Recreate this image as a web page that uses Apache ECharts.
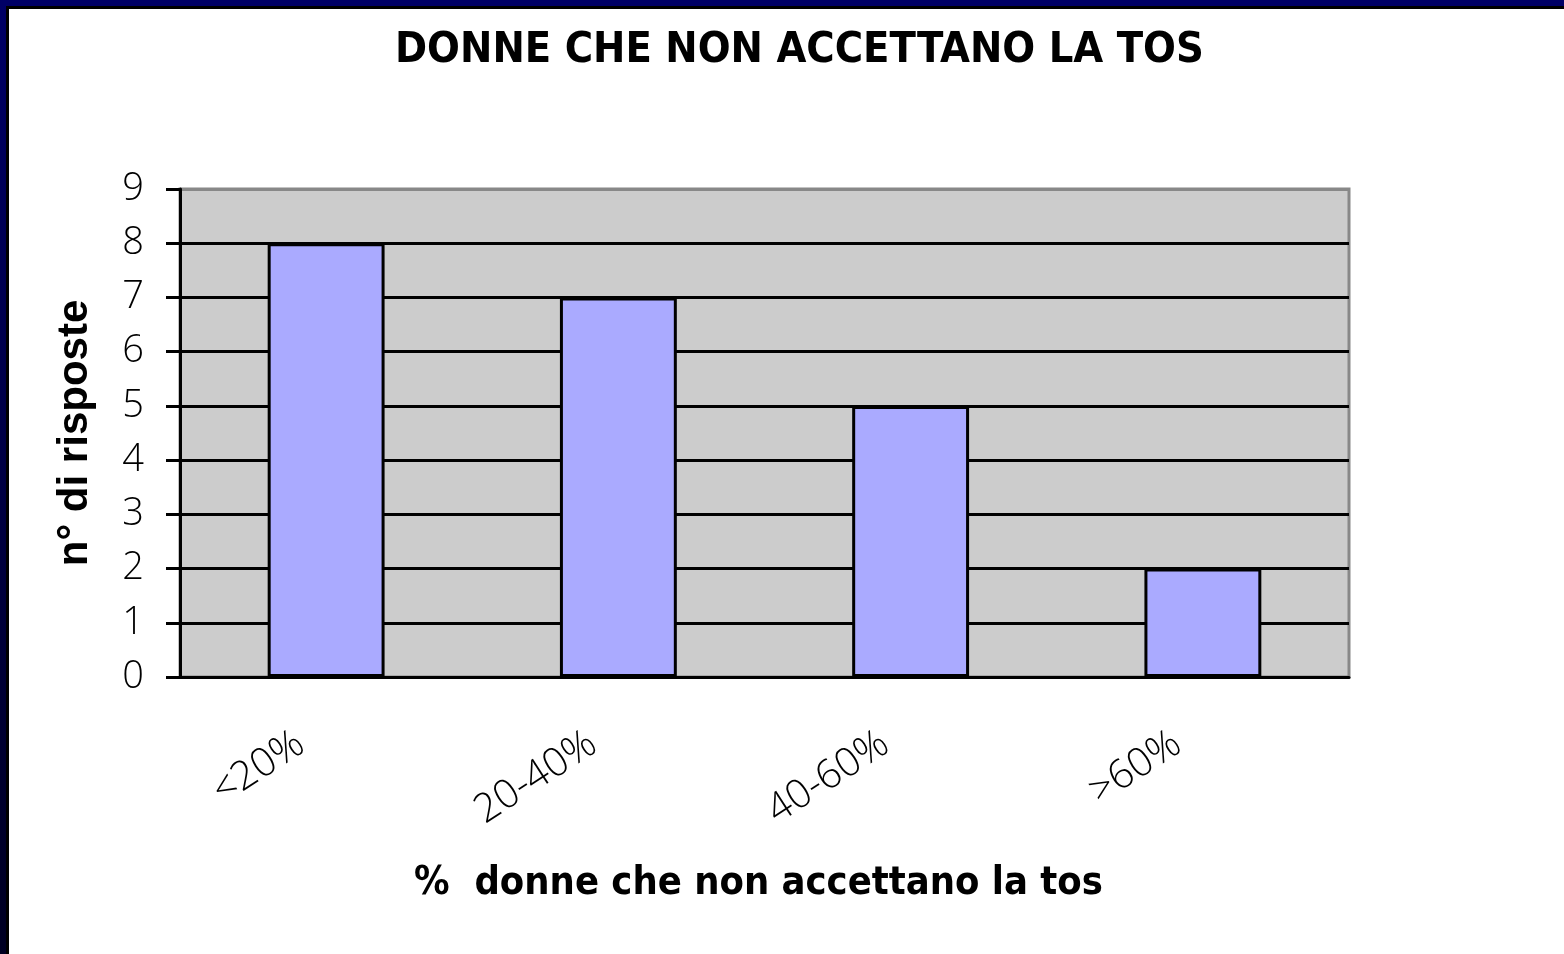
<!DOCTYPE html>
<html>
<head>
<meta charset="utf-8">
<script src="https://cdn.jsdelivr.net/npm/echarts@6/dist/echarts.min.js"></script>
<style>
  html, body { margin: 0; padding: 0; background: #fff; }
  #chart { position: absolute; left: 0; top: 0; width: 1564px; height: 954px; }
  .frame-top { position: absolute; left: 0; top: 0; width: 1564px; height: 6px; background: #000066; }
  .frame-left { position: absolute; left: 0; top: 0; width: 6px; height: 954px; background: linear-gradient(#000066, #000022); }
  .frame-top-in { position: absolute; left: 6px; top: 6px; width: 1558px; height: 3px; background: #000; }
  .frame-left-in { position: absolute; left: 6px; top: 6px; width: 3px; height: 948px; background: #000; }
</style>
</head>
<body>
<div id="chart"></div>
<div class="frame-top"></div>
<div class="frame-left"></div>
<div class="frame-top-in"></div>
<div class="frame-left-in"></div>
<script>
const titleText = 'DONNE CHE NON ACCETTANO LA TOS'
const categories = ['<20%', '20-40%', '40-60%', '>60%']
const risposte = [8, 7, 5, 2]
const yMin = 0
const yMax = 9
const yStep = 1

const narrow = '"DejaVu Sans Condensed", "DejaVu Sans", sans-serif'
const thin = '"Open Sans", "DejaVu Sans", sans-serif'

const chart = echarts.init(document.getElementById('chart'))

// split lines are black except the top one, which is the grey plot border
const splitColors = []
for (let v = yMin; v <= yMax; v += yStep) splitColors.push(v === yMax ? '#888888' : '#000000')

chart.setOption({
  animation: false,
  title: {
    text: titleText,
    left: 390,
    top: 24,
    textStyle: {
      fontFamily: narrow,
      fontWeight: 'bold',
      fontSize: 43,
      color: '#000'
    }
  },
  grid: {
    left: 180,
    top: 189,
    width: 1169,
    height: 488,
    show: true,
    backgroundColor: '#cccccc',
    borderColor: '#888888',
    borderWidth: 3
  },
  xAxis: {
    type: 'category',
    data: categories,
    name: '%  donne che non accettano la tos',
    nameLocation: 'middle',
    nameGap: 187,
    nameTextStyle: {
      fontFamily: narrow,
      fontWeight: 'bold',
      fontSize: 39.5,
      color: '#000',
      padding: [0, 12, 0, 0]
    },
    axisLine: { lineStyle: { color: '#000', width: 3 } },
    axisTick: { length: 14, lineStyle: { color: '#000', width: 3 } },
    axisLabel: {
      rotate: 33,
      margin: 47,
      padding: [0, 30, 0, 0],
      fontFamily: thin,
      fontWeight: 300,
      fontSize: 40,
      color: '#000'
    }
  },
  yAxis: {
    type: 'value',
    min: yMin,
    max: yMax,
    interval: yStep,
    name: 'n° di risposte',
    nameLocation: 'middle',
    nameGap: 84,
    nameTextStyle: {
      fontFamily: 'Liberation Sans',
      fontWeight: 'bold',
      fontSize: 42,
      color: '#000'
    },
    axisLine: { show: true, lineStyle: { color: '#000', width: 3 } },
    axisTick: { show: true, length: 14, lineStyle: { color: '#000', width: 3 } },
    axisLabel: {
      margin: 36,
      fontFamily: thin,
      fontWeight: 300,
      fontSize: 38,
      color: '#000'
    },
    splitLine: { show: true, lineStyle: { color: splitColors, width: 3 } }
  },
  series: [{
    type: 'bar',
    data: risposte,
    barWidth: '40%',
    itemStyle: { color: '#aaaaff', borderColor: '#000', borderWidth: 3 }
  }]
})
</script>
</body>
</html>
